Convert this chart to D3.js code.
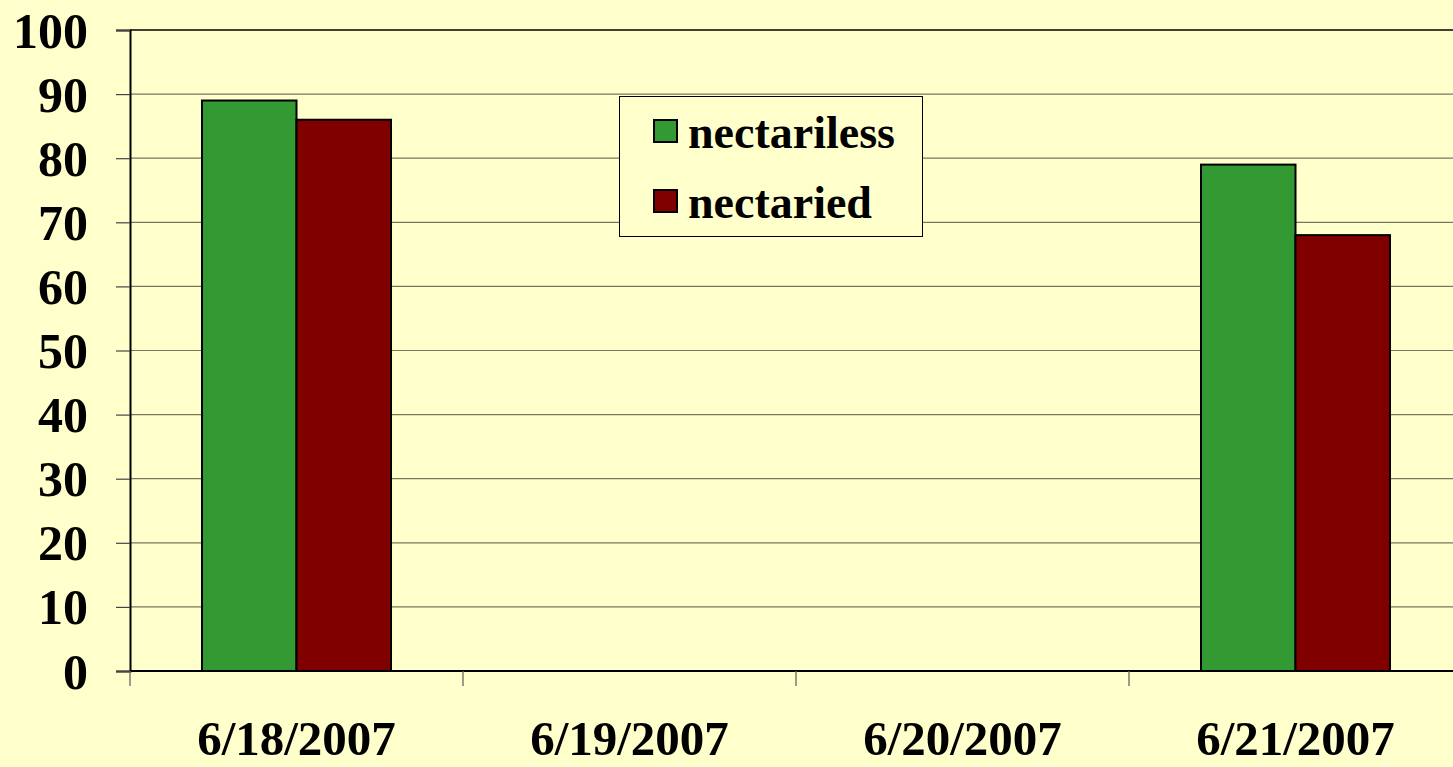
<!DOCTYPE html>
<html><head><meta charset="utf-8">
<script src="https://cdn.jsdelivr.net/npm/d3@7"></script>
<style>html,body{margin:0;padding:0;background:#FFFFCC;overflow:hidden}</style>
</head><body>
<svg id="c" width="1453" height="767"></svg>
<script>
const categories = ["6/18/2007", "6/19/2007", "6/20/2007", "6/21/2007"];
const seriesNames = ["nectariless", "nectaried"];
const nectariless = [89, null, null, 79];
const nectaried = [86, null, null, 68];
const yTicks = [0, 10, 20, 30, 40, 50, 60, 70, 80, 90, 100];
const colors = ["#339933", "#800000"];

const seriesValues = [nectariless, nectaried];
const svg = d3.select("#c");
const W = 1453, H = 767;
svg.append("rect").attr("width", W).attr("height", H).attr("fill", "#FFFFCC");

const mLeft = 130, mTop = 30, mBottom = 671, mRight = 1462;
const font = "'Liberation Serif','Times New Roman',serif";

const y = d3.scaleLinear().domain([0, 100]).range([mBottom, mTop]);
const x0 = d3.scaleBand().domain(categories).range([mLeft, mRight]).padding(0);
const x1 = d3.scaleBand().domain(seriesNames).range([0, x0.bandwidth()]).paddingInner(0).paddingOuter(0.762);

// gridlines
svg.append("g").selectAll("line").data(yTicks.filter(t => t > 0 && t < 100)).join("line")
  .attr("x1", mLeft).attr("x2", W).attr("y1", d => y(d)).attr("y2", d => y(d))
  .attr("stroke", "#77775f").attr("stroke-width", 1.2);
// top border
svg.append("line").attr("x1", mLeft).attr("x2", W).attr("y1", y(100)).attr("y2", y(100))
  .attr("stroke", "#000").attr("stroke-width", 1.6);

// bars
const groups = svg.append("g").selectAll("g").data(categories).join("g")
  .attr("transform", d => `translate(${x0(d)},0)`);
groups.selectAll("rect").data((d, i) => seriesNames.map((s, j) => ({s, j, v: seriesValues[j][i]})).filter(e => e.v != null))
  .join("rect")
  .attr("x", d => x1(d.s)).attr("width", x1.bandwidth())
  .attr("y", d => y(d.v)).attr("height", d => y(0) - y(d.v))
  .attr("fill", d => colors[d.j]).attr("stroke", "#000").attr("stroke-width", 2);

// y axis
const yAxis = svg.append("g").attr("transform", `translate(${mLeft},0)`)
  .call(d3.axisLeft(y).tickValues(yTicks).tickSize(14).tickPadding(28));
yAxis.select(".domain").attr("stroke", "#000").attr("stroke-width", 2);
yAxis.selectAll(".tick line").attr("stroke", "#444").attr("stroke-width", 1.2);
yAxis.selectAll("text").attr("font-family", font).attr("font-weight", "bold")
  .attr("font-size", 50).attr("fill", "#000").attr("dy", "0.34em");

// x axis
const xAxis = svg.append("g").attr("transform", `translate(0,${mBottom})`)
  .call(d3.axisBottom(x0).tickSize(0).tickPadding(0));
xAxis.select(".domain").remove();
svg.append("line").attr("x1", mLeft).attr("x2", W).attr("y1", mBottom).attr("y2", mBottom)
  .attr("stroke", "#000").attr("stroke-width", 2);
xAxis.selectAll("text").attr("font-family", font).attr("font-weight", "bold")
  .attr("font-size", 49).attr("fill", "#000").attr("y", 84).attr("dy", 0);
// category boundary ticks
const bounds = categories.map(c => x0(c)).concat([x0.range()[1]]);
svg.append("g").selectAll("line").data(bounds).join("line")
  .attr("x1", d => d).attr("x2", d => d).attr("y1", mBottom).attr("y2", mBottom + 15)
  .attr("stroke", "#666").attr("stroke-width", 1.3);

// legend
const lg = svg.append("g");
lg.append("rect").attr("x", 619.5).attr("y", 96.5).attr("width", 303).attr("height", 140)
  .attr("fill", "#FFFFCC").attr("stroke", "#000").attr("stroke-width", 1);
seriesNames.forEach((s, i) => {
  const yy = 120 + i * 70;
  lg.append("rect").attr("x", 654).attr("y", yy).attr("width", 23).attr("height", 22)
    .attr("fill", colors[i]).attr("stroke", "#000").attr("stroke-width", 2);
  lg.append("text").attr("x", 688).attr("y", yy + 28).text(s)
    .attr("font-family", font).attr("font-weight", "bold").attr("font-size", 46).attr("fill", "#000");
});
</script>
</body></html>
